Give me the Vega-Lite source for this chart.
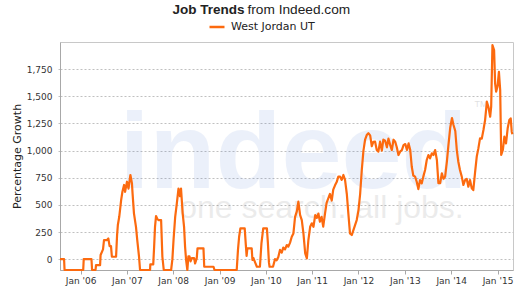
{
"$schema": "https://vega.github.io/schema/vega-lite/v6.json",
"width": 453,
"height": 228,
"autosize": {"type": "none"},
"padding": {"left": 60, "top": 42, "right": 7, "bottom": 19},
"background": "white",
"config": {"view": {"stroke": "#c8c8c8", "strokeWidth": 1}, "font": "DejaVu Sans"},
"encoding": {
  "y": {"field": "value", "type": "quantitative",
    "scale": {"domain": [-100, 2000], "nice": false, "zero": false},
    "axis": {"values": [0, 250, 500, 750, 1000, 1250, 1500, 1750], "labelExpr": "format(datum.value, ',')",
      "labelFont": "DejaVu Sans", "labelFontSize": 9, "labelColor": "#333", "labelPadding": 4,
      "tickSize": 4, "tickColor": "#c0c0c0", "tickDash": [2, 2],
      "grid": true, "gridColor": "#c0c0c0", "gridDash": [2, 2], "domainColor": "#a8a8a8",
      "title": "Percentage Growth", "titleFont": "DejaVu Sans", "titleFontSize": 11, "titleFontWeight": "normal",
      "titleColor": "#222", "titleX": -43, "titleY": 114, "titleAlign": "center", "titleBaseline": "middle", "titleAngle": -90}}
},
"resolve": {"axis": {"x": "independent"}},
"layer": [
  {
    "data": {"values": [{"date": "2010-08-07", "value": 654, "label": "indeed"}]},
    "mark": {"type": "text", "font": "Liberation Sans", "fontWeight": "bold", "fontSize": 108, "color": "#3366cc", "opacity": 0.09, "align": "center", "baseline": "alphabetic"},
    "encoding": {
      "x": {"field": "date", "type": "temporal",
        "scale": {"type": "utc", "domain": [{"year": 2005, "month": 7, "date": 23, "utc": true}, {"year": 2015, "month": 5, "date": 3, "utc": true}], "nice": false},
        "axis": {"orient": "top", "labels": false, "ticks": false, "domain": false, "grid": false,
          "title": "Job Trends", "titleFont": "Liberation Sans", "titleFontSize": 13.5, "titleFontWeight": "bold", "titleColor": "#222",
          "titleX": 112, "titleY": -29, "titleAlign": "left", "titleAnchor": "start", "titleBaseline": "alphabetic", "titleAngle": 0}},
      "text": {"field": "label", "type": "nominal"}
    }
  },
  {
    "data": {"values": [{"date": "2011-03-15", "value": 379, "label": "one search. all jobs."}]},
    "mark": {"type": "text", "font": "Liberation Sans", "fontSize": 32, "color": "#000000", "opacity": 0.075, "align": "center", "baseline": "alphabetic"},
    "encoding": {
      "x": {"field": "date", "type": "temporal",
        "scale": {"type": "utc", "domain": [{"year": 2005, "month": 7, "date": 23, "utc": true}, {"year": 2015, "month": 5, "date": 3, "utc": true}], "nice": false},
        "axis": {"orient": "top", "labels": false, "ticks": false, "domain": false, "grid": false,
          "title": "from Indeed.com", "titleFont": "Liberation Sans", "titleFontSize": 13.7, "titleFontWeight": "normal", "titleColor": "#222",
          "titleX": 187, "titleY": -29, "titleAlign": "left", "titleAnchor": "start", "titleBaseline": "alphabetic", "titleAngle": 0}},
      "text": {"field": "label", "type": "nominal"}
    }
  },
  {
    "data": {"values": [{"date": "2014-08-24", "value": 1401, "label": "TM"}]},
    "mark": {"type": "text", "font": "Liberation Sans", "fontSize": 9, "color": "#000000", "opacity": 0.12, "align": "center", "baseline": "alphabetic"},
    "encoding": {
      "x": {"field": "date", "type": "temporal",
        "scale": {"type": "utc", "domain": [{"year": 2005, "month": 7, "date": 23, "utc": true}, {"year": 2015, "month": 5, "date": 3, "utc": true}], "nice": false},
        "axis": null},
      "text": {"field": "label", "type": "nominal"}
    }
  },
  {
    "data": {"values": [
{"date":"2005-07-23","value":0},{"date":"2005-08-24","value":0},{"date":"2005-08-28","value":-100},{"date":"2006-01-22","value":-100},
{"date":"2006-01-26","value":0},{"date":"2006-03-28","value":0},{"date":"2006-04-02","value":-100},{"date":"2006-04-29","value":-100},
{"date":"2006-05-03","value":-55},{"date":"2006-06-04","value":-55},{"date":"2006-06-08","value":38},{"date":"2006-06-27","value":90},
{"date":"2006-07-05","value":176},{"date":"2006-07-29","value":176},{"date":"2006-08-08","value":190},{"date":"2006-08-18","value":120},
{"date":"2006-08-29","value":120},{"date":"2006-09-05","value":22},{"date":"2006-10-08","value":22},{"date":"2006-10-16","value":222},
{"date":"2006-10-22","value":314},{"date":"2006-11-02","value":390},{"date":"2006-11-17","value":544},{"date":"2006-11-27","value":621},
{"date":"2006-12-10","value":683},{"date":"2006-12-18","value":620},{"date":"2007-01-02","value":713},{"date":"2007-01-14","value":650},
{"date":"2007-01-29","value":775},{"date":"2007-02-10","value":700},{"date":"2007-02-15","value":606},{"date":"2007-02-26","value":422},
{"date":"2007-03-14","value":298},{"date":"2007-03-24","value":176},{"date":"2007-04-07","value":22},{"date":"2007-04-15","value":-100},
{"date":"2007-07-03","value":-100},{"date":"2007-07-05","value":-48},{"date":"2007-07-28","value":-48},{"date":"2007-08-04","value":114},
{"date":"2007-08-11","value":298},{"date":"2007-08-19","value":397},{"date":"2007-08-29","value":370},{"date":"2007-09-07","value":360},
{"date":"2007-09-28","value":360},{"date":"2007-10-08","value":22},{"date":"2007-10-19","value":-100},{"date":"2007-12-16","value":-100},
{"date":"2007-12-26","value":0},{"date":"2008-01-04","value":176},{"date":"2008-01-17","value":390},{"date":"2008-01-30","value":514},
{"date":"2008-02-12","value":650},{"date":"2008-02-24","value":580},{"date":"2008-03-03","value":650},{"date":"2008-03-16","value":422},
{"date":"2008-03-27","value":298},{"date":"2008-04-04","value":114},{"date":"2008-04-12","value":-8},{"date":"2008-04-22","value":-100},
{"date":"2008-04-30","value":25},{"date":"2008-05-09","value":25},{"date":"2008-05-17","value":-20},{"date":"2008-05-27","value":10},
{"date":"2008-06-14","value":10},{"date":"2008-06-22","value":-40},{"date":"2008-07-05","value":10},{"date":"2008-07-11","value":99},
{"date":"2008-08-27","value":99},{"date":"2008-09-02","value":-70},{"date":"2008-11-14","value":-70},{"date":"2008-11-22","value":-100},
{"date":"2009-05-16","value":-100},{"date":"2009-05-26","value":85},{"date":"2009-06-04","value":206},{"date":"2009-06-14","value":283},
{"date":"2009-07-18","value":283},{"date":"2009-07-26","value":145},{"date":"2009-08-02","value":30},{"date":"2009-08-08","value":99},
{"date":"2009-09-11","value":99},{"date":"2009-09-17","value":-8},{"date":"2009-09-25","value":10},{"date":"2009-10-08","value":-30},
{"date":"2009-10-22","value":-70},{"date":"2009-11-15","value":-70},{"date":"2009-11-27","value":145},{"date":"2009-12-11","value":283},
{"date":"2010-01-09","value":283},{"date":"2010-01-17","value":145},{"date":"2010-01-25","value":-30},{"date":"2010-01-30","value":-70},
{"date":"2010-02-26","value":-70},{"date":"2010-03-14","value":0},{"date":"2010-03-27","value":-10},{"date":"2010-04-09","value":20},
{"date":"2010-04-22","value":85},{"date":"2010-05-06","value":60},{"date":"2010-05-18","value":106},{"date":"2010-06-01","value":90},
{"date":"2010-06-15","value":130},{"date":"2010-06-27","value":115},{"date":"2010-07-10","value":150},{"date":"2010-07-24","value":206},
{"date":"2010-08-06","value":237},{"date":"2010-08-19","value":390},{"date":"2010-09-02","value":440},{"date":"2010-09-14","value":529},
{"date":"2010-09-28","value":406},{"date":"2010-10-11","value":360},{"date":"2010-10-24","value":237},{"date":"2010-11-07","value":53},
{"date":"2010-11-20","value":6},{"date":"2010-12-02","value":176},{"date":"2010-12-16","value":298},{"date":"2010-12-29","value":330},
{"date":"2011-01-11","value":298},{"date":"2011-01-25","value":406},{"date":"2011-02-07","value":380},{"date":"2011-02-19","value":420},
{"date":"2011-03-03","value":345},{"date":"2011-03-16","value":390},{"date":"2011-03-29","value":300},{"date":"2011-04-12","value":420},
{"date":"2011-04-25","value":520},{"date":"2011-05-08","value":560},{"date":"2011-05-21","value":600},{"date":"2011-06-04","value":540},
{"date":"2011-06-16","value":640},{"date":"2011-06-30","value":680},{"date":"2011-07-13","value":710},{"date":"2011-07-26","value":760},
{"date":"2011-08-09","value":760},{"date":"2011-08-22","value":730},{"date":"2011-09-04","value":775},{"date":"2011-09-17","value":730},
{"date":"2011-10-01","value":600},{"date":"2011-10-13","value":422},{"date":"2011-10-26","value":237},{"date":"2011-11-09","value":222},
{"date":"2011-11-22","value":268},{"date":"2011-12-05","value":314},{"date":"2011-12-18","value":360},{"date":"2012-01-01","value":452},
{"date":"2012-01-14","value":600},{"date":"2012-01-27","value":821},{"date":"2012-02-09","value":1000},{"date":"2012-02-22","value":1100},
{"date":"2012-03-06","value":1143},{"date":"2012-03-19","value":1160},{"date":"2012-04-02","value":1140},{"date":"2012-04-15","value":1040},
{"date":"2012-04-27","value":1080},{"date":"2012-05-11","value":1082},{"date":"2012-05-24","value":1005},{"date":"2012-06-06","value":990},
{"date":"2012-06-19","value":1082},{"date":"2012-07-03","value":1000},{"date":"2012-07-15","value":1100},{"date":"2012-07-29","value":1090},
{"date":"2012-08-12","value":1030},{"date":"2012-08-24","value":1110},{"date":"2012-09-07","value":1050},{"date":"2012-09-20","value":1005},
{"date":"2012-10-03","value":1100},{"date":"2012-10-16","value":1082},{"date":"2012-10-29","value":1030},{"date":"2012-11-11","value":959},
{"date":"2012-11-24","value":990},{"date":"2012-12-08","value":1005},{"date":"2012-12-21","value":1050},{"date":"2013-01-04","value":1060},
{"date":"2013-01-17","value":1005},{"date":"2013-01-30","value":1066},{"date":"2013-02-12","value":1005},{"date":"2013-02-24","value":851},
{"date":"2013-03-08","value":770},{"date":"2013-03-22","value":760},{"date":"2013-04-04","value":713},{"date":"2013-04-17","value":645},
{"date":"2013-04-30","value":728},{"date":"2013-05-14","value":698},{"date":"2013-05-26","value":760},{"date":"2013-06-09","value":821},
{"date":"2013-06-22","value":913},{"date":"2013-07-05","value":959},{"date":"2013-07-18","value":928},{"date":"2013-08-01","value":974},
{"date":"2013-08-14","value":959},{"date":"2013-08-27","value":1005},{"date":"2013-09-10","value":913},{"date":"2013-09-22","value":700},
{"date":"2013-10-06","value":700},{"date":"2013-10-19","value":790},{"date":"2013-11-01","value":740},{"date":"2013-11-14","value":760},
{"date":"2013-11-28","value":900},{"date":"2013-12-10","value":1050},{"date":"2013-12-24","value":1210},{"date":"2014-01-07","value":1300},
{"date":"2014-01-19","value":1235},{"date":"2014-02-02","value":1180},{"date":"2014-02-14","value":1005},{"date":"2014-02-26","value":897},
{"date":"2014-03-11","value":821},{"date":"2014-03-25","value":760},{"date":"2014-04-07","value":683},{"date":"2014-04-20","value":728},
{"date":"2014-05-03","value":740},{"date":"2014-05-16","value":667},{"date":"2014-05-29","value":728},{"date":"2014-06-12","value":652},
{"date":"2014-06-24","value":636},{"date":"2014-07-08","value":800},{"date":"2014-07-21","value":943},{"date":"2014-08-03","value":1020},
{"date":"2014-08-16","value":1112},{"date":"2014-08-30","value":1110},{"date":"2014-09-12","value":1189},{"date":"2014-09-25","value":1281},
{"date":"2014-10-09","value":1450},{"date":"2014-10-21","value":1404},{"date":"2014-11-04","value":1312},{"date":"2014-11-12","value":1404},
{"date":"2014-11-22","value":1972},{"date":"2014-12-05","value":1926},{"date":"2014-12-13","value":1619},{"date":"2014-12-21","value":1542},
{"date":"2015-01-01","value":1590},{"date":"2015-01-12","value":1726},{"date":"2015-01-22","value":1558},{"date":"2015-01-30","value":959},
{"date":"2015-02-12","value":1005},{"date":"2015-02-24","value":1128},{"date":"2015-03-09","value":1066},{"date":"2015-03-22","value":1205},
{"date":"2015-04-04","value":1281},{"date":"2015-04-15","value":1297},{"date":"2015-04-23","value":1174},{"date":"2015-04-28","value":1150}
    ]},
    "mark": {"type": "line", "strokeWidth": 2.2, "interpolate": "linear", "strokeJoin": "round"},
    "encoding": {
      "x": {"field": "date", "type": "temporal",
        "scale": {"type": "utc", "domain": [{"year": 2005, "month": 7, "date": 23, "utc": true}, {"year": 2015, "month": 5, "date": 3, "utc": true}], "nice": false},
        "axis": {"orient": "bottom", "format": "%b '%y", "tickCount": {"interval": "year", "step": 1},
          "labelFont": "DejaVu Sans", "labelFontSize": 9, "labelColor": "#333", "labelPadding": 2,
          "tickSize": 4, "tickColor": "#a8a8a8", "domainColor": "#a8a8a8", "grid": false, "title": null,
          "labelFlush": false, "labelOverlap": false}},
      "color": {"datum": "West Jordan UT", "type": "nominal", "scale": {"range": ["#fc6a0f"]},
        "legend": {"orient": "none", "legendX": 148, "legendY": -24, "title": null, "symbolType": "stroke", "symbolSize": 225,
          "symbolStrokeWidth": 2.5, "labelFont": "DejaVu Sans", "labelFontSize": 11, "labelColor": "#222", "labelOffset": 5, "padding": 0}}
    }
  }
]
}
